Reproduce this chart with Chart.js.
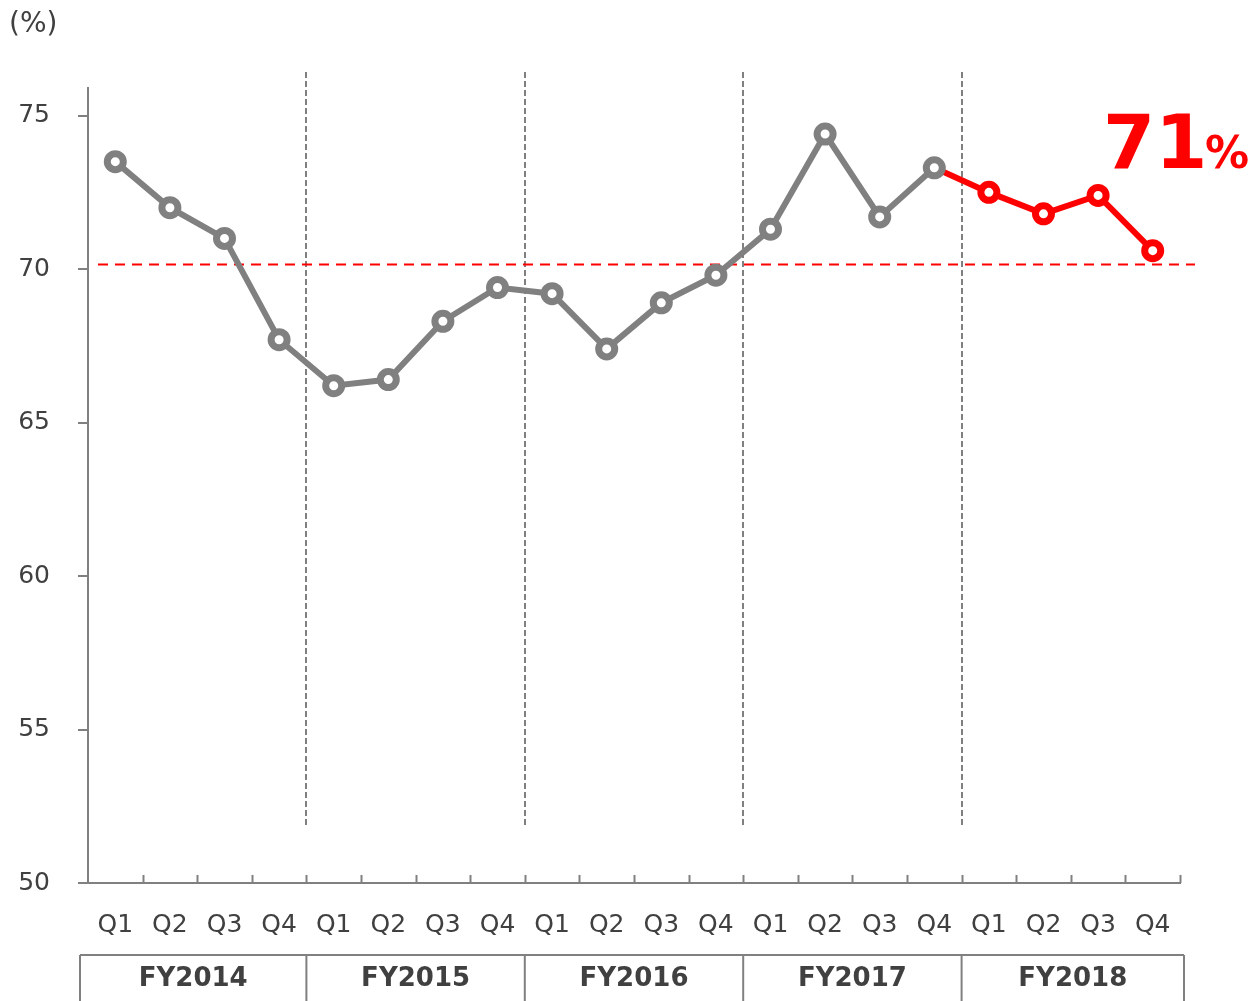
<!DOCTYPE html>
<html>
<head>
<meta charset="utf-8">
<script src="https://cdn.jsdelivr.net/npm/chart.js@4.4.1/dist/chart.umd.min.js"></script>
<style>
  html, body { margin: 0; padding: 0; background: #fff; }
  #wrap { width: 1251px; height: 1001px; position: relative; }
</style>
</head>
<body>
<div id="wrap"><canvas id="c"></canvas></div>
<script>
// quarter labels, fiscal years and the rate per quarter (%)
const quarters = ['Q1', 'Q2', 'Q3', 'Q4', 'Q1', 'Q2', 'Q3', 'Q4', 'Q1', 'Q2', 'Q3', 'Q4',
                  'Q1', 'Q2', 'Q3', 'Q4', 'Q1', 'Q2', 'Q3', 'Q4'];
const fiscalYears = ['FY2014', 'FY2015', 'FY2016', 'FY2017', 'FY2018'];
const rates = [73.5, 72.0, 71.0, 67.7, 66.2, 66.4, 68.3, 69.4, 69.2, 67.4, 68.9, 69.8,
               71.3, 74.4, 71.7, 73.3, 72.5, 71.8, 72.4, 70.6];
const yTicks = [50, 55, 60, 65, 70, 75];
const targetLine = 70.15;
const highlightValue = '71';
const highlightFrom = 15; // segments after FY2017 Q4 are drawn red

const GRAY = '#808080';
const RED = '#ff0000';
const TEXT = '#404040';
const FONT = 'DejaVu Sans';

const overlay = {
    id: 'overlay',
    beforeDatasetsDraw(chart) {
        const { ctx, scales: { x, y }, chartArea } = chart;
        ctx.save();
        // x tick marks pointing up from the axis, at category boundaries
        ctx.strokeStyle = GRAY;
        ctx.lineWidth = 2;
        for (let i = 1; i <= quarters.length; i++) {
            const px = Math.round(x.getPixelForValue(i - 0.5)) + 0.5;
            ctx.beginPath();
            ctx.moveTo(px, chartArea.bottom);
            ctx.lineTo(px, chartArea.bottom - 8);
            ctx.stroke();
        }
        // year separators
        ctx.setLineDash([6, 3]);
        ctx.lineWidth = 2;
        for (let g = 1; g < fiscalYears.length; g++) {
            const px = Math.round(x.getPixelForValue(g * 4 - 0.5));
            ctx.beginPath();
            ctx.moveTo(px, chartArea.top - 16);
            ctx.lineTo(px, chartArea.bottom - 57);
            ctx.stroke();
        }
        // target line
        ctx.strokeStyle = RED;
        ctx.setLineDash([10, 7]);
        const ty = y.getPixelForValue(targetLine);
        ctx.beginPath();
        ctx.moveTo(chartArea.left + 10, ty);
        ctx.lineTo(chartArea.right + 15, ty);
        ctx.stroke();
        ctx.restore();
    },
    afterDraw(chart) {
        const { ctx, scales: { x }, chartArea } = chart;
        ctx.save();
        // unit label
        ctx.fillStyle = TEXT;
        ctx.font = '28px "' + FONT + '"';
        ctx.textBaseline = 'middle';
        ctx.textAlign = 'left';
        ctx.fillText('(%)', 9, 25);

        // fiscal year table
        const top = 955, bottom = 1001;
        const edges = [chartArea.left - 8];
        for (let g = 1; g < fiscalYears.length; g++) edges.push(x.getPixelForValue(g * 4 - 0.5));
        edges.push(chartArea.right + 4);
        ctx.strokeStyle = GRAY;
        ctx.lineWidth = 2;
        ctx.beginPath();
        ctx.moveTo(edges[0], top);
        ctx.lineTo(edges[edges.length - 1], top);
        edges.forEach(e => { ctx.moveTo(e, top); ctx.lineTo(e, bottom); });
        ctx.stroke();
        ctx.font = 'bold 26px "' + FONT + '"';
        ctx.textAlign = 'center';
        fiscalYears.forEach((fy, i) => {
            ctx.fillText(fy, (edges[i] + edges[i + 1]) / 2, 979);
        });

        // highlight
        ctx.fillStyle = RED;
        ctx.textAlign = 'left';
        ctx.textBaseline = 'alphabetic';
        ctx.font = 'bold 75px "' + FONT + '"';
        ctx.fillText(highlightValue, 1103, 168);
        ctx.font = 'bold 44px "' + FONT + '"';
        ctx.fillText('%', 1205, 168);
        ctx.restore();
    }
};

new Chart(document.getElementById('c'), {
    type: 'line',
    data: {
        labels: quarters,
        datasets: [{
            data: rates,
            borderWidth: 6,
            borderColor: GRAY,
            segment: {
                borderColor: c => c.p0DataIndex >= highlightFrom ? RED : GRAY
            },
            pointRadius: 8,
            pointHoverRadius: 8,
            pointBorderWidth: 7,
            pointBackgroundColor: '#ffffff',
            pointBorderColor: rates.map((v, i) => i > highlightFrom ? RED : GRAY),
            tension: 0
        }]
    },
    options: {
        responsive: true,
        maintainAspectRatio: false,
        animation: false,
        layout: { padding: { top: 88, right: 71, bottom: 0, left: 14 } },
        plugins: {
            legend: { display: false },
            tooltip: { enabled: false }
        },
        scales: {
            x: {
                offset: true,
                grid: { display: false },
                border: { display: true, color: GRAY, width: 2 },
                ticks: { color: TEXT, font: { family: FONT, size: 25 }, padding: 19, maxRotation: 0, autoSkip: false },
                afterFit: axis => { axis.height = 118; }
            },
            y: {
                min: 50,
                max: 75.9,
                afterBuildTicks: axis => { axis.ticks = yTicks.map(v => ({ value: v })); },
                afterFit: axis => { axis.width = 74; },
                grid: { drawOnChartArea: false, drawTicks: true, tickLength: 10, color: GRAY, lineWidth: 2 },
                border: { display: true, color: GRAY, width: 2 },
                ticks: { color: TEXT, font: { family: FONT, size: 25 }, padding: 28 }
            }
        }
    },
    plugins: [overlay]
});
</script>
</body>
</html>
